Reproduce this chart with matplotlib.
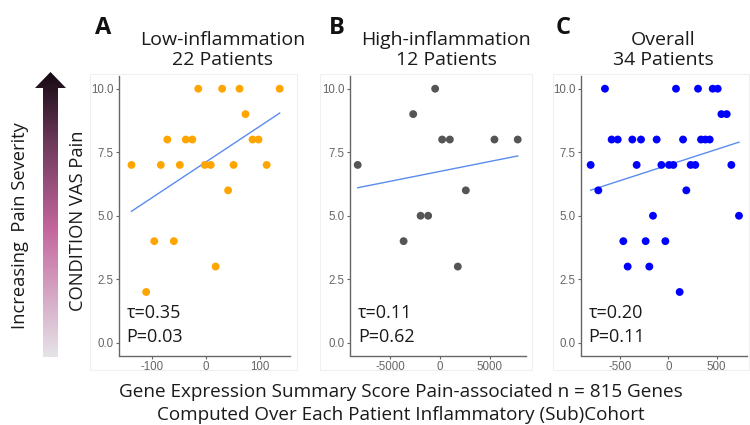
import matplotlib

matplotlib.use("Agg")
import matplotlib.pyplot as plt
import numpy as np
from matplotlib.colors import LinearSegmentedColormap
from matplotlib.patches import Polygon, Rectangle

plt.rcParams["axes.unicode_minus"] = False

# 数据
low_x = [-137, -110, -95, -83, -71, -59, -48, -37, -25, -14, -2,
         9, 18, 30, 41, 51, 62, 73, 86, 97, 112, 136]
low_y = [7, 2, 4, 7, 8, 4, 7, 8, 8, 10, 7, 7, 3, 10, 6, 7, 10, 9, 8, 8, 7, 10]

high_x = [-8230, -3630, -2670, -1930, -1170, -470, 230, 1000, 1800, 2600, 5470, 7800]
high_y = [7, 4, 9, 5, 5, 10, 8, 8, 3, 6, 8, 8]

all_x = [-656, 79, 307, 459, 511,
         549, 604,
         -587, -524, -373, -283, -121, 152, 338, 383, 428,
         -804, -328, -72, 7, 52, 231, 279, 652,
         -725, 186,
         -159, 731,
         -466, -235, -31,
         -421, -197,
         117]
all_y = [10] * 5 + [9] * 2 + [8] * 9 + [7] * 8 + [6] * 2 + [5] * 2 + [4] * 3 + [3] * 2 + [2]

panel_letters = ["A", "B", "C"]
panel_titles = ["Low-inflammation\n22 Patients", "High-inflammation\n12 Patients",
                "Overall\n34 Patients"]
tau_labels = ["τ=0.35", "τ=0.11", "τ=0.20"]
p_labels = ["P=0.03", "P=0.62", "P=0.11"]
x_ticks = [[-100, 0, 100], [-5000, 0, 5000], [-500, 0, 500]]
y_ticks = [0.0, 2.5, 5.0, 7.5, 10.0]

W, H = 750, 425
TEXT_FONT = ["Open Sans", "DejaVu Sans"]
TICK_FONT = "Liberation Sans"
TEXT_COLOR = "#1a1a1a"


def px(x0, y0, w, h):
    """像素坐标 -> figure 坐标"""
    return [x0 / W, 1 - (y0 + h) / H, w / W, h / H]


def draw_panel(fig, rect, xs, ys, color, xlim, xt, tau, p):
    ax = fig.add_axes(rect)
    ax.scatter(xs, ys, s=32, color=color, edgecolors="none", zorder=3)

    # 线性拟合
    k, b = np.polyfit(xs, ys, 1)
    xx = np.array([min(xs), max(xs)])
    ax.plot(xx, k * xx + b, color="#5a8cf0", lw=1.0, zorder=2)

    ax.set_xlim(*xlim)
    ax.set_ylim(-0.5, 10.5)
    ax.set_xticks(xt)
    ax.set_yticks(y_ticks)
    ax.set_yticklabels([f"{v:.1f}" for v in y_ticks])
    for side in ["top", "right"]:
        ax.spines[side].set_visible(False)
    for side in ["left", "bottom"]:
        ax.spines[side].set_color("#666666")
        ax.spines[side].set_linewidth(1.0)
    ax.tick_params(labelsize=8.3, labelcolor="#666666", color="#666666",
                   length=2.5, width=0.8, pad=1.5)
    for lab in ax.get_xticklabels() + ax.get_yticklabels():
        lab.set_fontfamily(TICK_FONT)

    ax.text(0.045, 0.152, tau, transform=ax.transAxes, fontsize=13,
            family=TEXT_FONT, color=TEXT_COLOR, va="center")
    ax.text(0.045, 0.066, p, transform=ax.transAxes, fontsize=13,
            family=TEXT_FONT, color=TEXT_COLOR, va="center")
    return ax


def main():
    fig = plt.figure(figsize=(7.5, 4.25), dpi=100)

    # 背景层：箭头和浅灰边框
    bg = fig.add_axes([0, 0, 1, 1], zorder=-1)
    bg.axis("off")
    for x0, x1 in [(90, 297), (320, 532), (553, 749)]:
        bg.add_patch(Rectangle((x0, 74), x1 - x0, 296, fill=False,
                               edgecolor="#f0f0f0", lw=0.8))

    cmap = LinearSegmentedColormap.from_list(
        "pain", [(0, "#e6e3e8"), (0.45, "#c4669e"), (0.75, "#6e3a5c"), (1, "#140a11")])
    grad = np.linspace(0, 1, 256).reshape(-1, 1)
    im = bg.imshow(grad, cmap=cmap, origin="lower", aspect="auto",
                   extent=[35, 66, 357, 72])
    arrow = Polygon([(43, 357), (58, 357), (58, 88), (66, 88), (50.5, 72),
                     (35, 88), (43, 88)], closed=True, facecolor="none",
                    edgecolor="none")
    bg.add_patch(arrow)
    im.set_clip_path(arrow)
    bg.set_xlim(0, W)
    bg.set_ylim(H, 0)

    fig.text(20 / W, 1 - 226 / H, "Increasing  Pain Severity", rotation=90,
             fontsize=13.2, family=TEXT_FONT, ha="center", va="center", color=TEXT_COLOR)
    fig.text(78 / W, 1 - 221 / H, "CONDITION VAS Pain", rotation=90,
             fontsize=13.2, family=TEXT_FONT, ha="center", va="center", color=TEXT_COLOR)

    draw_panel(fig, px(119, 76, 171, 279.5), low_x, low_y, "#ffa500",
               (-160, 155), x_ticks[0], tau_labels[0], p_labels[0])
    draw_panel(fig, px(350, 76, 176, 279.5), high_x, high_y, "#555555",
               (-9000, 8630), x_ticks[1], tau_labels[1], p_labels[1])
    draw_panel(fig, px(581, 76, 166, 279.5), all_x, all_y, "#0000ff",
               (-904, 814), x_ticks[2], tau_labels[2], p_labels[2])

    # 标题和字母
    for letter, lx in zip(panel_letters, [103, 337, 563]):
        fig.text(lx / W, 1 - 27.5 / H, letter, fontsize=17, fontweight="bold",
                 family=TEXT_FONT, ha="center", va="center", color="#111111")
    for title, cx in zip(panel_titles, [223, 446, 663]):
        fig.text(cx / W, 1 - 50 / H, title, fontsize=14, family=TEXT_FONT,
                 ha="center", va="center", color=TEXT_COLOR, linespacing=1.2)

    fig.text(401 / W, 1 - 403.5 / H,
             "Gene Expression Summary Score Pain-associated n = 815 Genes\n"
             "Computed Over Each Patient Inflammatory (Sub)Cohort",
             fontsize=13.6, family=TEXT_FONT, ha="center", va="center",
             color=TEXT_COLOR, linespacing=1.35)

    plt.savefig("out.png", dpi=100)
    plt.close()


if __name__ == "__main__":
    main()
